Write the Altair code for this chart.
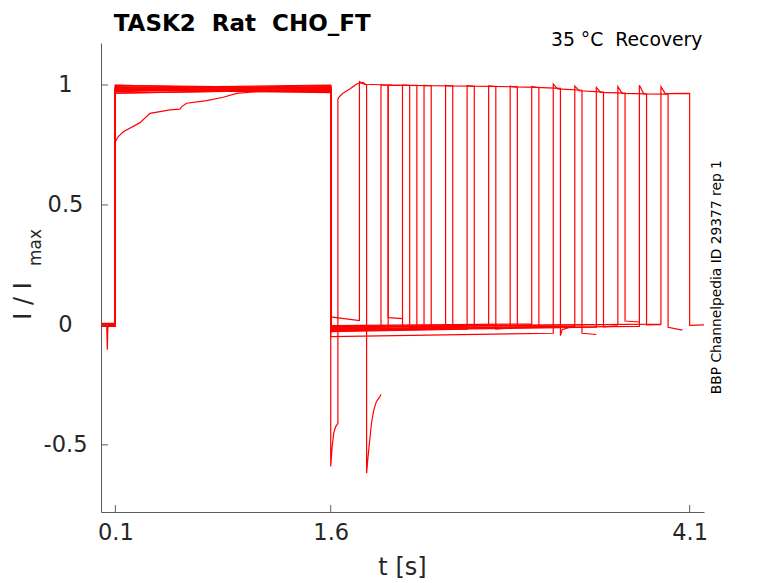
import altair as alt
import pandas as pd

# ---- protocol times (s) ----
T_START = 0.0
P1_ON = 0.1
P1_OFF = 1.6

# ---- per-sweep second-pulse timing (s) ----
P2_ON     = [1.65, 1.80, 1.95, 2.10, 2.25, 2.40, 2.55, 2.70, 2.85, 3.00, 3.15, 3.30, 3.45, 3.60, 3.75, 3.90, 2.00]
P2_SETTLE = [None, 1.83, 1.98, 2.13, 2.28, 2.43, 2.58, 2.73, 2.88, 3.03, 3.18, 3.33, 3.48, 3.63, 3.78, 3.93, 2.03]
P2_OFF    = [1.85, 2.00, 2.15, 2.30, 2.45, 2.60, 2.75, 2.90, 3.05, 3.20, 3.35, 3.50, 3.65, 3.80, 3.95, 4.10, 2.20]
SWEEP_END = [1.95, 2.10, 2.25, 2.40, 2.55, 2.70, 2.85, 3.00, 3.15, 3.30, 3.45, 3.60, 3.75, 3.90, 4.05, 4.20, 2.30]

# ---- per-sweep levels (I / Imax) ----
PRE        = [0.002, -0.004, 0.005, -0.002, 0.000, 0.004, -0.006, 0.001, -0.003, 0.006, -0.001, 0.003, -0.005, 0.002, -0.002, 0.004, 0.000]
P1_START   = [0.990, 0.985, 0.999, 0.975, 0.980, 0.770, 0.966, 0.988, 0.978, 0.993, 0.972, 0.983, 0.998, 0.976, 0.987, 0.966, 0.981]
P1_END     = [0.984, 0.992, 0.978, 0.986, 0.968, 0.978, 0.982, 0.999, 0.973, 0.984, 0.990, 0.977, 0.988, 0.993, 0.971, 0.980, 0.997]
BASE_START = [None, 0.033, -0.012, -0.025, -0.006, -0.018, -0.028, -0.009, -0.021, -0.003, -0.049, -0.015, -0.024, -0.011, -0.019, -0.007, -0.014]
BASE_END   = [None, 0.018, -0.012, -0.020, -0.004, -0.012, -0.018, -0.002, -0.010, 0.004, -0.035, -0.006, -0.010, 0.002, -0.006, 0.003, -0.012]
P2_PEAK    = [None, 1.014, 1.000, 0.999, 0.998, 0.998, 0.997, 0.996, 0.995, 0.994, 1.004, 0.996, 0.990, 0.993, 0.999, 0.993, 1.000]
P2_START   = [None, 1.003, 0.999, 0.998, 0.997, 0.996, 0.995, 0.994, 0.992, 0.990, 0.984, 0.976, 0.969, 0.965, 0.963, 0.964, 0.999]
P2_END     = [None, 1.000, 0.998, 0.997, 0.996, 0.995, 0.994, 0.992, 0.990, 0.986, 0.978, 0.970, 0.966, 0.963, 0.962, 0.965, 0.998]
TAIL_START = [None, 0.030, -0.010, -0.020, -0.005, -0.012, -0.018, -0.003, -0.010, -0.045, -0.035, -0.008, 0.016, 0.000, -0.010, -0.002, -0.006]
TAIL_END   = [None, 0.026, -0.008, -0.015, -0.004, -0.010, -0.012, 0.000, -0.007, -0.003, -0.040, -0.004, 0.012, 0.001, -0.022, 0.000, -0.005]

# ---- special features ----
SPIKE_SWEEP = 3
SPIKE_T = [0.040, 0.044, 0.047, 0.050]
SPIKE_Y = [0.000, -0.104, -0.020, -0.004]

SLOW_SWEEP = 5
SLOW_T = [0.100, 0.120, 0.156, 0.272, 0.341, 0.480, 0.550, 0.562, 0.597, 0.736, 0.851, 0.945, 1.083, 1.315, 1.600]
SLOW_Y = [0.764, 0.785, 0.805, 0.843, 0.882, 0.896, 0.899, 0.910, 0.924, 0.935, 0.949, 0.965, 0.972, 0.976, 0.978]

NEG1_T = [1.600, 1.610, 1.621, 1.635, 1.650]
NEG1_Y = [-0.590, -0.507, -0.451, -0.424, -0.410]
REC0_T = [1.650, 1.655, 1.670, 1.686, 1.710, 1.733, 1.760, 1.780, 1.825, 1.850]
REC0_Y = [0.940, 0.948, 0.957, 0.966, 0.975, 0.983, 0.995, 1.004, 1.011, 1.000]
NEG2_T = [1.850, 1.860, 1.872, 1.884, 1.900, 1.918, 1.941, 1.950]
NEG2_Y = [-0.618, -0.549, -0.479, -0.410, -0.354, -0.320, -0.300, -0.290]

DIP_SWEEP = 9
DIP_T = [3.212]
DIP_Y = [-0.020]

X_TICKS = [0.1, 1.6, 4.1]
Y_TICKS = [-0.5, 0.0, 0.5, 1.0]

TITLE = "TASK2\u00a0\u00a0Rat\u00a0\u00a0CHO_FT"
SUBTITLE = "35 \u00b0C\u00a0\u00a0Recovery"
SIDE = "BBP Channelpedia ID 29377 rep 1"

# ---- build the trace table ----
rows = []


def add(k, t, y):
    rows.append({"sweep": k, "i": len(rows), "t": t, "y": y})


for k in range(len(P2_ON)):
    add(k, T_START, PRE[k])
    if k == SPIKE_SWEEP:
        for t, y in zip(SPIKE_T, SPIKE_Y):
            add(k, t, y)
    add(k, P1_ON, PRE[k])
    if k == SLOW_SWEEP:
        for t, y in zip(SLOW_T, SLOW_Y):
            add(k, t, y)
    else:
        add(k, P1_ON, P1_START[k])
        add(k, P1_OFF, P1_END[k])
    if k == 0:
        for t, y in zip(NEG1_T, NEG1_Y):
            add(k, t, y)
        for t, y in zip(REC0_T, REC0_Y):
            add(k, t, y)
        for t, y in zip(NEG2_T, NEG2_Y):
            add(k, t, y)
    else:
        add(k, P1_OFF, BASE_START[k])
        add(k, P2_ON[k], BASE_END[k])
        add(k, P2_ON[k], P2_PEAK[k])
        add(k, P2_SETTLE[k], P2_START[k])
        add(k, P2_OFF[k], P2_END[k])
        add(k, P2_OFF[k], TAIL_START[k])
        if k == DIP_SWEEP:
            for t, y in zip(DIP_T, DIP_Y):
                add(k, t, y)
        add(k, SWEEP_END[k], TAIL_END[k])

df = pd.DataFrame(rows)

W, H = 603, 469
AX = "#5c5c5c"
TXT = "#262626"
FONT = "DejaVu Sans"

xscale = alt.Scale(domain=[0, 4.2], nice=False, zero=False)
yscale = alt.Scale(domain=[-0.78, 1.175], nice=False, zero=False)

xaxis = alt.Axis(
    values=X_TICKS, format=".1f", title=None, grid=False, ticks=False, tickSize=0,
    labelFontSize=22.5, labelColor=TXT, labelFont=FONT, labelPadding=9,
    labelFlush=False, domainColor=AX, domainWidth=1)
yaxis = alt.Axis(
    values=Y_TICKS, title=None, grid=False, ticks=False, tickSize=0,
    labelExpr="datum.value < 0 ? '-' + format(-datum.value, '~g') : format(datum.value, '~g')",
    labelFontSize=22.5, labelColor=TXT, labelFont=FONT, labelPadding=36,
    labelAlign="center", labelBaseline="middle", labelFlush=False,
    domainColor=AX, domainWidth=1)

lines = alt.Chart(df).mark_line(color="#ff0000", strokeWidth=1.2, clip=True).encode(
    x=alt.X("t:Q", scale=xscale, axis=xaxis),
    y=alt.Y("y:Q", scale=yscale, axis=yaxis),
    detail="sweep:N",
    order="i:Q",
)

xt = alt.Chart(pd.DataFrame({"t": X_TICKS})).mark_rule(color=AX, strokeWidth=1).encode(
    x=alt.X("t:Q", scale=xscale, axis=xaxis),
    y=alt.value(H), y2=alt.value(H - 7),
)
yt = alt.Chart(pd.DataFrame({"y": Y_TICKS})).mark_rule(color=AX, strokeWidth=1).encode(
    y=alt.Y("y:Q", scale=yscale, axis=yaxis),
    x=alt.value(0), x2=alt.value(7),
)


def label(text, x, y, size, align="left", baseline="alphabetic", angle=0, weight="normal", color="#000000"):
    return alt.Chart(pd.DataFrame({"txt": [text]})).mark_text(
        align=align, baseline=baseline, angle=angle, font=FONT, fontSize=size,
        fontWeight=weight, color=color,
    ).encode(text="txt:N", x=alt.value(x), y=alt.value(y))


title = label(TITLE, 12.7, -12.5, 23, weight="bold")
sub = label(SUBTITLE, 601.4, 3.4, 18.8, align="right")
side = label(SIDE, 619.7, 234.2, 13.8, align="center", angle=270)
xtitle = label("t [s]", W / 2, 531.7, 24, align="center", color=TXT)
ytitle = label("I / I", -70.5, 276.7, 24, align="left", angle=270, color=TXT)
ysub = label("max", -60.0, 223.0, 17, align="left", angle=270, color=TXT)

chart = alt.layer(lines, xt, yt, title, sub, side, xtitle, ytitle, ysub).properties(
    width=W, height=H,
    autosize=alt.AutoSizeParams(type="none"),
    padding={"left": 93, "top": 35, "right": 60, "bottom": 68},
    background="white",
).configure_view(stroke=None)

chart.save("out.html", embed_options={"renderer": "svg", "actions": False})
